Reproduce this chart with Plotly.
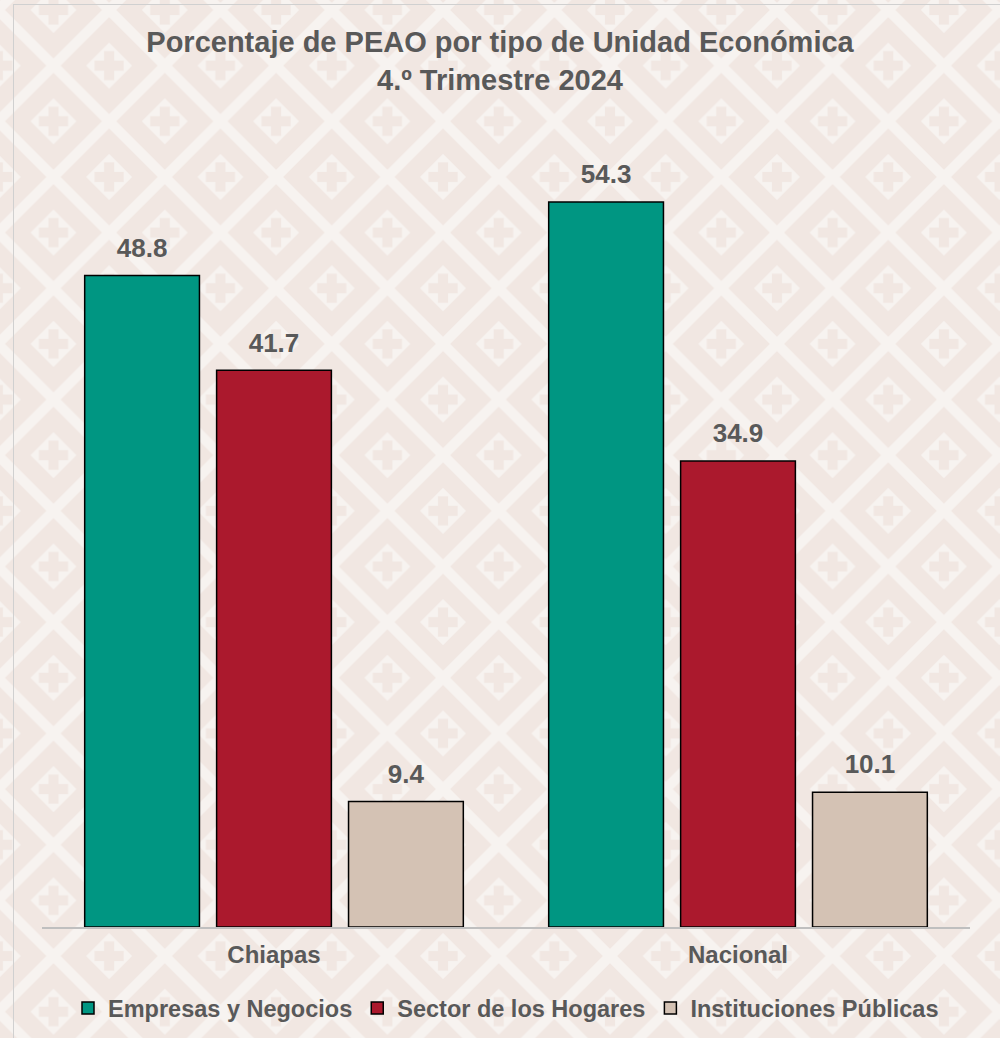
import base64
import plotly.graph_objects as go

# datos
regiones = ["Chiapas", "Nacional"]
series = ["Empresas y Negocios", "Sector de los Hogares", "Instituciones Públicas"]
empresas = [48.8, 54.3]
hogares = [41.7, 34.9]
instituciones = [9.4, 10.1]

titulo = "Porcentaje de PEAO por tipo de Unidad Económica<br>4.º Trimestre 2024"

W, H = 1000, 1038
GRIS = "#595959"
FUENTE = "Arial"
colores = ["#009682", "#AB192D", "#D4C2B4"]


def fondo_svg():
    # patron de rombos con cruces (fondo decorativo)
    P = 111.3
    h = P / 2
    base = "#F7F3F0"
    rosa = "#F1E7E2"

    def rombo(cx, cy, r, color):
        return (f'<path d="M{cx - r},{cy} L{cx},{cy - r} L{cx + r},{cy} L{cx},{cy + r} Z" '
                f'fill="{color}"/>')

    def cruz(cx, cy, a=14.5, b=5.0):
        return (f'<rect x="{cx - a}" y="{cy - b}" width="{2 * a}" height="{2 * b}" fill="{rosa}"/>'
                f'<rect x="{cx - b}" y="{cy - a}" width="{2 * b}" height="{2 * a}" fill="{rosa}"/>')

    celdas = ""
    for cx, cy in [(0, 0), (P, 0), (0, P), (P, P), (h, h)]:
        celdas += rombo(cx, cy, 48.5, rosa) + rombo(cx, cy, 23, base) + cruz(cx, cy)

    svg = (f'<svg xmlns="http://www.w3.org/2000/svg" width="{W}" height="{H + 20}" '
           f'viewBox="0 0 {W} {H + 20}">'
           f'<defs><pattern id="p" patternUnits="userSpaceOnUse" x="53.5" y="10" '
           f'width="{P}" height="{P}">'
           f'<rect width="{P}" height="{P}" fill="{base}"/>{celdas}</pattern></defs>'
           f'<rect width="{W}" height="{H + 20}" fill="url(#p)"/>'
           f'<rect x="13.5" y="4.5" width="{W}" height="{H + 40}" fill="none" stroke="#D0D0D0" stroke-width="1"/>'
           f'</svg>')
    return "data:image/svg+xml;base64," + base64.b64encode(svg.encode("utf-8")).decode()


fondo = fondo_svg()

ml, mr, mt, mb = 42, 30, 126, 111
pw, ph = W - ml - mr, H - mt - mb

fig = go.Figure()

for nombre, vals, color in zip(series, [empresas, hogares, instituciones], colores):
    fig.add_trace(go.Bar(
        x=regiones, y=vals, name=nombre, offsetgroup=nombre,
        marker=dict(color=color, line=dict(color="#000000", width=1.5)),
    ))

# etiquetas de datos
for nombre, vals in zip(series, [empresas, hogares, instituciones]):
    fig.add_trace(go.Scatter(
        x=regiones, y=vals, mode="markers+text", offsetgroup=nombre,
        text=[f"{v:.1f}" for v in vals], textposition="top center",
        textfont=dict(family=FUENTE, size=26, color=GRIS, weight="bold"),
        marker=dict(size=18, opacity=0), showlegend=False, hoverinfo="skip",
        cliponaxis=False,
    ))

fig.update_layout(
    width=W, height=H, autosize=False,
    margin=dict(l=ml, r=mr, t=mt, b=mb, autoexpand=False),
    paper_bgcolor="rgba(0,0,0,0)",
    plot_bgcolor="rgba(0,0,0,0)",
    barmode="group", bargap=0.147, bargroupgap=0.13,
    scattermode="group", scattergap=0.147,
    font=dict(family=FUENTE, color=GRIS),
    title=dict(
        text=titulo, x=0.5, xanchor="center", xref="container",
        y=1 - 52 / H, yanchor="top", yref="container",
        font=dict(family=FUENTE, size=29, color=GRIS, weight="bold"),
    ),
    xaxis=dict(
        showgrid=False, showline=True, linecolor="#BFBFBF", linewidth=1.5,
        ticks="", ticklabelstandoff=5,
        tickfont=dict(family=FUENTE, size=24, color=GRIS, weight="bold"),
    ),
    yaxis=dict(range=[0, 60], visible=False, showgrid=False, zeroline=False),
    legend=dict(
        orientation="h", x=0.5, xanchor="center", y=-(1008 - 926.7) / ph, yanchor="middle",
        font=dict(family=FUENTE, size=23.5, color=GRIS, weight="bold"),
        itemwidth=30, bgcolor="rgba(0,0,0,0)",
    ),
)

# fondo de la pagina con el mismo patron, sin margen del body
js = ("document.body.style.margin='0';"
      "document.documentElement.style.overflow='hidden';"
      "document.body.style.backgroundColor='#F7F3F0';"
      "document.body.style.backgroundImage='url(" + fondo + ")';"
      "document.body.style.backgroundRepeat='no-repeat';"
      "document.body.style.backgroundPosition='0 0';")

fig.write_html("out.html", config={"displayModeBar": False, "responsive": False},
               post_script=js)
